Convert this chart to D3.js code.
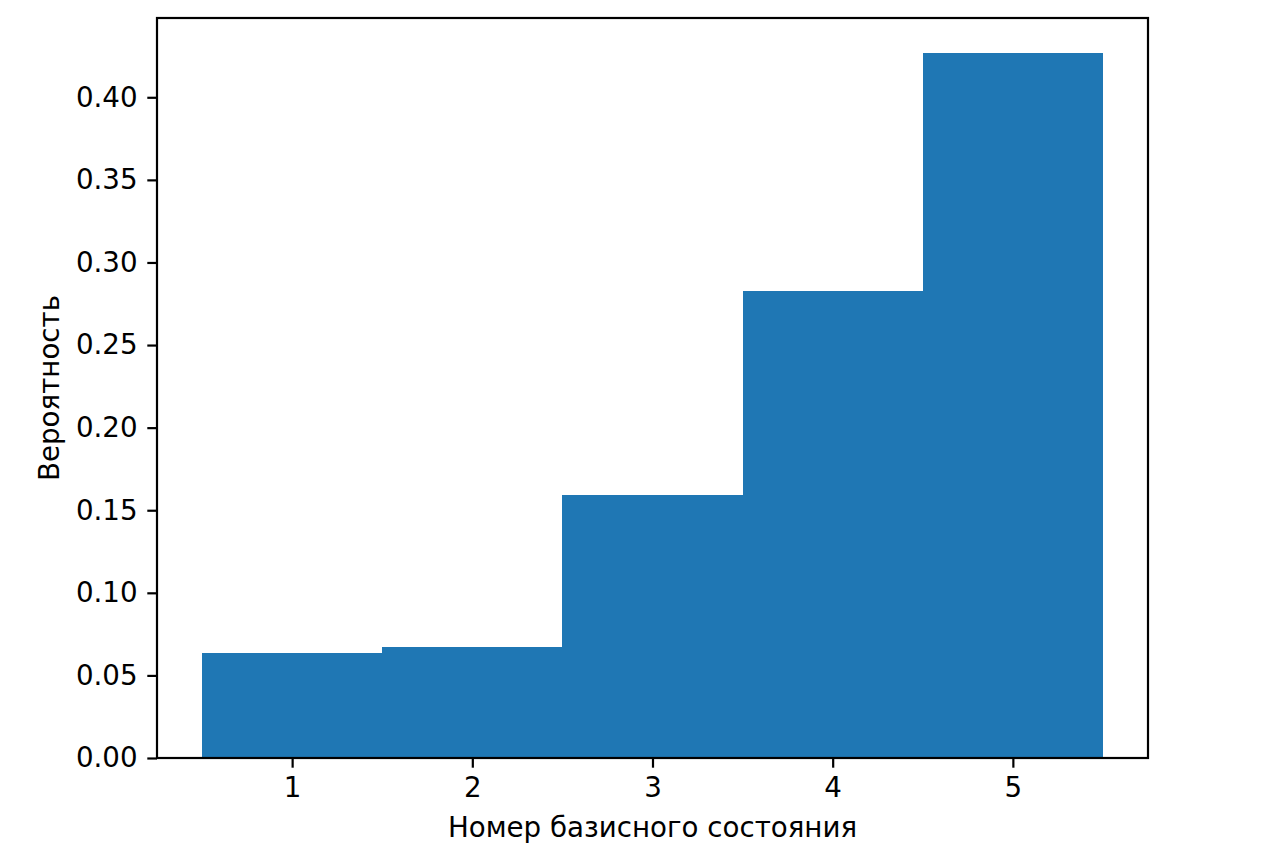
<!DOCTYPE html>
<html>
<head>
<meta charset="utf-8">
<script src="https://cdn.jsdelivr.net/npm/d3@7"></script>
<style>
  body { margin: 0; background: #fff; }
  text { font-family: "DejaVu Sans", sans-serif; fill: #000; }
</style>
</head>
<body>
<div id="chart"></div>
<script>
const states = [1, 2, 3, 4, 5];
const probabilities = [0.0636, 0.0673, 0.1594, 0.283, 0.4267];
const yTicks = [0, 0.05, 0.1, 0.15, 0.2, 0.25, 0.3, 0.35, 0.4];

const width = 1277,
  height = 857,
  plotLeft = 157,
  plotRight = 1148,
  plotTop = 18,
  plotBottom = 758,
  fontSize = "27.7px";

const svg = d3
  .select("#chart")
  .append("svg")
  .attr("width", width)
  .attr("height", height);

const x = d3.scaleLinear().domain([0.25, 5.75]).range([plotLeft, plotRight]);
const y = d3.scaleLinear().domain([0, 0.448]).range([plotBottom, plotTop]);

svg
  .selectAll("rect.bar")
  .data(states)
  .enter()
  .append("rect")
  .attr("class", "bar")
  .attr("x", (d) => x(d - 0.5))
  .attr("width", (d) => x(d + 0.5) - x(d - 0.5) + 0.5)
  .attr("y", (d, i) => y(probabilities[i]))
  .attr("height", (d, i) => y(0) - y(probabilities[i]))
  .attr("fill", "#1f77b4")
  .attr("shape-rendering", "crispEdges");

const xAxis = d3
  .axisBottom(x)
  .tickValues(states)
  .tickFormat(d3.format("d"))
  .tickSize(9.7)
  .tickPadding(9.7);

const yAxis = d3
  .axisLeft(y)
  .tickValues(yTicks)
  .tickFormat(d3.format(".2f"))
  .tickSize(9.7)
  .tickPadding(9.7);

const gx = svg
  .append("g")
  .attr("transform", "translate(0," + plotBottom + ")")
  .call(xAxis);

const gy = svg
  .append("g")
  .attr("transform", "translate(" + plotLeft + ",0)")
  .call(yAxis);

[gx, gy].forEach((g) => {
  g.attr("font-family", null).attr("font-size", null);
  g.select(".domain").remove();
  g.selectAll("line").attr("stroke", "#000").attr("stroke-width", 2.2);
  g.selectAll("text").style("font-size", fontSize).attr("fill", "#000");
});

// frame
svg
  .append("rect")
  .attr("x", plotLeft)
  .attr("y", plotTop)
  .attr("width", plotRight - plotLeft)
  .attr("height", plotBottom - plotTop)
  .attr("fill", "none")
  .attr("stroke", "#000")
  .attr("stroke-width", 2.2);

svg
  .append("text")
  .attr("x", (plotLeft + plotRight) / 2)
  .attr("y", 837)
  .attr("text-anchor", "middle")
  .style("font-size", fontSize)
  .text("Номер базисного состояния");

svg
  .append("text")
  .attr("transform", "translate(59," + (plotTop + plotBottom) / 2 + ") rotate(-90)")
  .attr("text-anchor", "middle")
  .style("font-size", fontSize)
  .text("Вероятность");
</script>
</body>
</html>
